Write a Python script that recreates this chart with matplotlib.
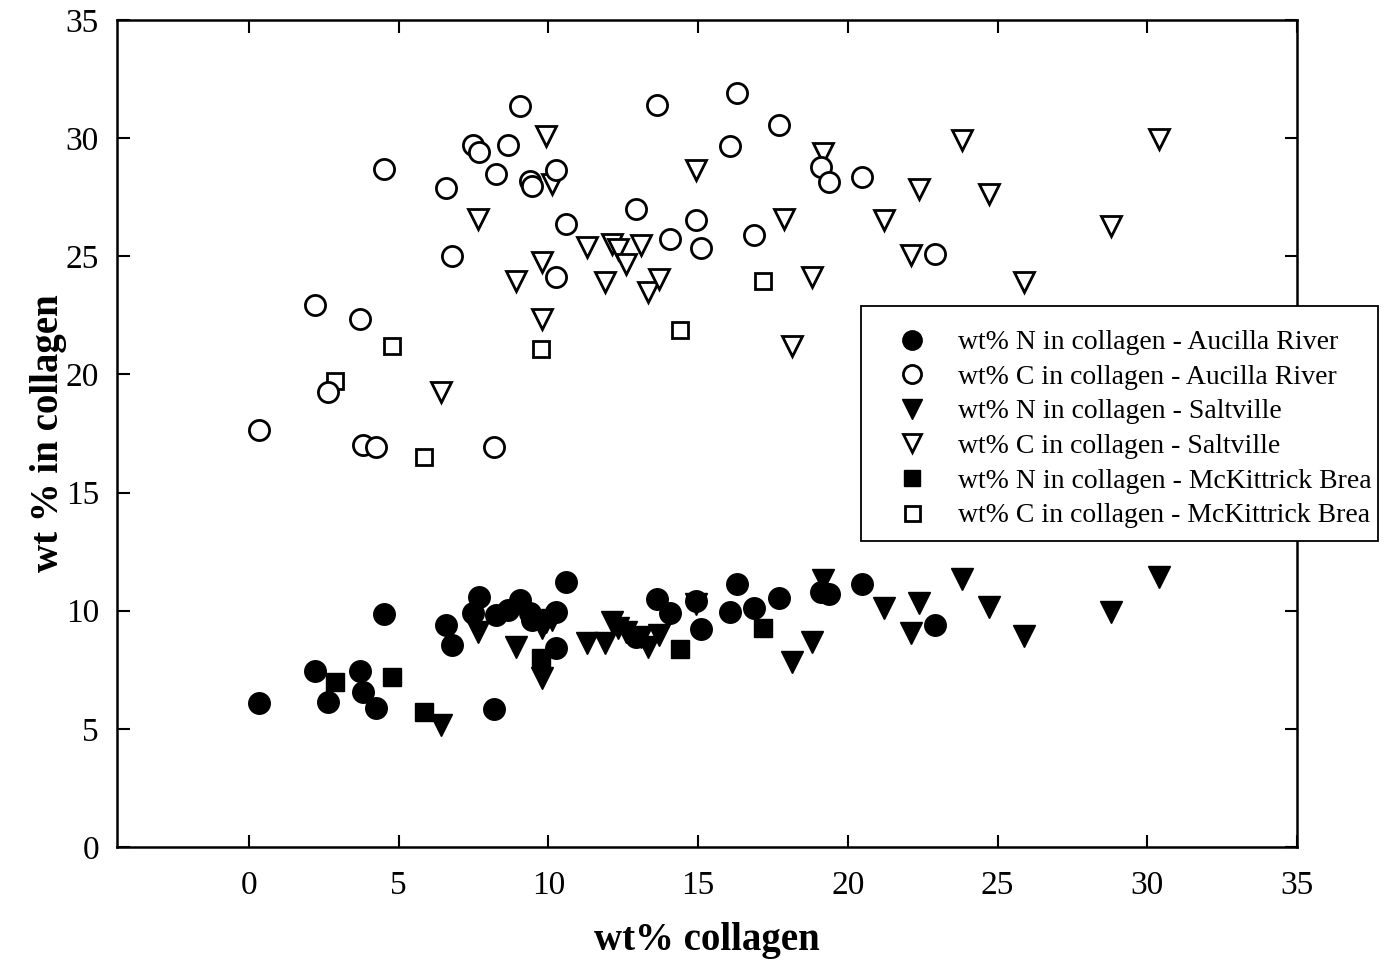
import numpy as np
import matplotlib.pyplot as plt
from matplotlib.patches import Rectangle
from matplotlib.ticker import MultipleLocator

plt.rcParams['font.family'] = ['Liberation Serif', 'DejaVu Serif']

# Aucilla River: same samples give both the N and C value
aucilla_collagen = [0.33, 2.2, 2.64, 3.7, 3.8, 4.24, 4.5, 6.6, 6.78, 7.5, 7.7, 8.18, 8.25,
                    8.65, 9.05, 9.4, 9.45, 10.25, 10.25, 10.6, 12.93, 13.63, 14.06, 14.93,
                    15.1, 16.07, 16.3, 16.87, 17.7, 19.1, 19.37, 20.47, 22.9]
aucilla_n = [6.09, 7.45, 6.14, 7.45, 6.56, 5.88, 9.86, 9.4, 8.55, 9.9, 10.58, 5.84, 9.82,
             10.03, 10.45, 9.9, 9.6, 9.95, 8.42, 11.2, 8.9, 10.5, 9.9, 10.4,
             9.22, 9.94, 11.13, 10.1, 10.54, 10.8, 10.7, 11.13, 9.4]
aucilla_c = [17.65, 22.94, 19.26, 22.34, 17.0, 16.93, 28.69, 27.9, 25.0, 29.7, 29.4, 16.93, 28.5,
             29.7, 31.36, 28.2, 27.97, 28.65, 24.12, 26.37, 27.0, 31.4, 25.73, 26.53,
             25.35, 29.67, 31.9, 25.9, 30.55, 28.78, 28.14, 28.35, 25.1]

# Saltville (one N value not reported)
saltville_collagen = [6.41, 7.65, 8.92, 9.79, 9.79, 9.92, 10.12, 11.29, 11.89, 12.12, 12.32,
                      12.59, 13.09, 13.33, 13.69, 14.93, 17.87, 18.14, 18.8, 19.17, 21.2,
                      22.1, 22.38, 23.81, 24.72, 25.89, 28.79, 30.39]
saltville_n = [5.16, 9.1, 8.46, 9.27, 7.15, 9.5, 9.6, 8.63, 8.63, 9.52, 9.27,
               9.1, 8.9, 8.46, 8.97, 10.3, np.nan, 7.83, 8.68, 11.3, 10.1,
               9.06, 10.33, 11.34, 10.16, 8.93, 9.95, 11.43]
saltville_c = [19.26, 26.58, 23.95, 24.76, 22.34, 30.09, 28.06, 25.39, 23.91, 25.52, 25.3,
               24.67, 25.48, 23.49, 24.04, 28.65, 26.58, 21.2, 24.12, 29.37, 26.53,
               25.05, 27.85, 29.92, 27.63, 23.91, 26.28, 29.96]

# McKittrick Brea
mckittrick_collagen = [2.87, 4.78, 5.85, 9.75, 14.4, 17.17]
mckittrick_n = [6.98, 7.19, 5.71, 8.0, 8.38, 9.27]
mckittrick_c = [19.72, 21.2, 16.5, 21.07, 21.88, 23.95]

fig = plt.figure(figsize=(13.85, 9.64), dpi=100)
ax = fig.add_axes([0.0845, 0.1214, 0.852, 0.8579])

lw = 2.0
ax.plot(aucilla_collagen, aucilla_n, 'o', ms=15.5, color='black', mec='black', zorder=4,
        label='wt% N in collagen - Aucilla River')
ax.plot(aucilla_collagen, aucilla_c, 'o', ms=14.5, mfc='white', mec='black', mew=lw, zorder=4,
        label='wt% C in collagen - Aucilla River')
ax.plot(saltville_collagen, saltville_n, 'v', ms=16, color='black', mec='black', zorder=3,
        label='wt% N in collagen - Saltville')
ax.plot(saltville_collagen, saltville_c, 'v', ms=15, mfc='white', mec='black', mew=lw, zorder=3,
        label='wt% C in collagen - Saltville')
ax.plot(mckittrick_collagen, mckittrick_n, 's', ms=13, color='black', mec='black', zorder=3,
        label='wt% N in collagen - McKittrick Brea')
ax.plot(mckittrick_collagen, mckittrick_c, 's', ms=12, mfc='white', mec='black', mew=lw, zorder=3,
        label='wt% C in collagen - McKittrick Brea')

ax.set_xlim(-4.4, 35)
ax.set_ylim(0, 35)
ax.set_xticks(range(0, 36, 5))
ax.yaxis.set_major_locator(MultipleLocator(5))
ax.tick_params(direction='in', length=9, width=1.5, labelsize=24, top=True, right=True)
ax.tick_params(axis='x', pad=17)
ax.tick_params(axis='y', pad=13)
for s in ax.spines.values():
    s.set_linewidth(1.8)

ax.set_xlabel('wt% collagen', fontsize=28, fontweight='bold', labelpad=15)
ax.set_ylabel('wt % in collagen', fontsize=28, fontweight='bold', labelpad=-1)

# legend box sticks out past the right spine, so draw the frame separately
fig.patches.append(Rectangle((0.6217, 0.4388), 0.3733, 0.2438, transform=fig.transFigure,
                             facecolor='white', edgecolor='black', linewidth=1.3, zorder=4))
fig.legend(loc='upper left', bbox_to_anchor=(0.6232, 0.6795),
           bbox_transform=fig.transFigure, borderaxespad=0, fontsize=20,
           frameon=False, handletextpad=0.65, labelspacing=0.33, borderpad=0.75,
           markerscale=0.9)

fig.savefig('out.png', dpi=100)
